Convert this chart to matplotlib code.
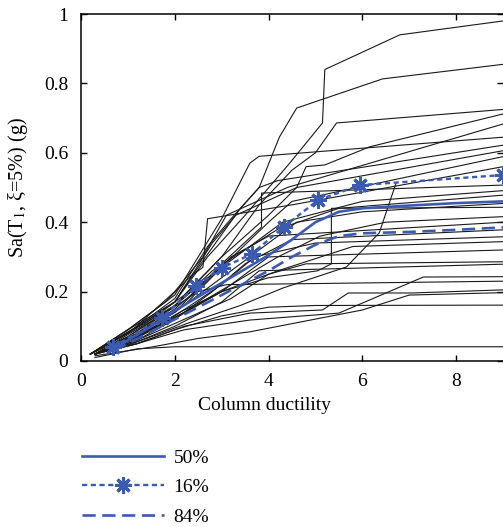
import matplotlib
matplotlib.use('Agg')
import matplotlib.pyplot as plt

# IDA curves (column ductility, Sa)
ida_x = [
    [0.2, 1.0, 2.0, 2.7, 3.5, 4.45, 5.15, 5.2, 6.8, 9.0],
    [0.2, 1.2, 2.0, 2.7, 3.2, 3.8, 4.23, 4.6, 6.43, 9.0],
    [0.2, 1.0, 2.0, 3.0, 3.8, 4.5, 5.0, 5.45, 9.0],
    [0.3, 1.3, 2.2, 3.0, 4.0, 4.6, 4.8, 5.2, 6.15, 9.0],
    [0.2, 1.1, 2.0, 2.6, 3.1, 4.4, 9.0],
    [0.2, 1.0, 2.0, 2.5, 3.0, 3.6, 3.8, 9.0],
    [0.2, 1.0, 2.0, 2.5, 3.4, 3.8, 4.2, 9.0],
    [0.2, 1.0, 2.0, 2.8, 3.3, 4.6, 9.0],
    [0.3, 1.2, 2.2, 3.0, 4.0, 4.5, 9.0],
    [0.3, 1.1, 2.0, 3.0, 3.85, 3.85, 9.0],
    [0.3, 1.2, 2.1, 2.8, 3.6, 4.3, 6.0, 9.0],
    [0.2, 1.0, 2.0, 2.8, 3.5, 4.2, 5.5, 9.0],
    [0.3, 1.2, 2.1, 3.0, 4.0, 5.05, 5.34, 5.34, 9.0],
    [0.3, 1.1, 2.0, 3.0, 3.9, 4.6, 6.0, 9.0],
    [0.3, 1.2, 2.2, 3.2, 4.2, 5.1, 6.5, 9.0],
    [0.3, 1.3, 2.3, 3.4, 4.3, 5.66, 6.36, 6.72],
    [0.3, 1.2, 2.0, 2.8, 3.5, 4.5, 9.0],
    [0.3, 1.0, 2.0, 3.0, 3.7, 5.0, 9.0],
    [0.3, 1.2, 2.2, 3.0, 4.2, 5.8, 9.0],
    [0.3, 1.1, 2.1, 3.0, 4.0, 9.0],
    [0.3, 1.2, 2.2, 3.2, 4.0, 4.8, 9.0],
    [0.3, 1.1, 2.0, 3.0, 3.8, 9.0],
    [0.3, 1.2, 2.2, 3.6, 5.5, 7.3, 9.0],
    [0.3, 1.2, 2.2, 3.6, 5.15, 5.7, 7.06, 9.0],
    [0.3, 1.5, 2.5, 3.6, 6.0, 7.0, 9.0],
    [0.3, 1.2, 2.0, 3.0, 4.0, 5.0, 9.0],
    [0.3, 1.2, 2.0, 9.0],
    [0.3, 1.0, 1.7, 2.5, 3.1, 9.0],
    [0.2, 1.0, 1.8, 2.3, 2.6, 2.7, 4.5, 9.0],
    [0.3, 1.1, 2.0, 2.6, 3.2, 4.0, 9.0],
]
ida_y = [
    [0.02, 0.08, 0.17, 0.30, 0.42, 0.57, 0.686, 0.84, 0.94, 0.98],
    [0.02, 0.10, 0.18, 0.33, 0.41, 0.50, 0.645, 0.729, 0.813, 0.855],
    [0.02, 0.07, 0.16, 0.30, 0.45, 0.55, 0.60, 0.686, 0.725],
    [0.02, 0.10, 0.19, 0.30, 0.42, 0.50, 0.56, 0.565, 0.617, 0.712],
    [0.02, 0.09, 0.20, 0.30, 0.42, 0.50, 0.683],
    [0.02, 0.09, 0.19, 0.30, 0.41, 0.57, 0.59, 0.645],
    [0.02, 0.09, 0.17, 0.27, 0.44, 0.50, 0.52, 0.622],
    [0.02, 0.08, 0.17, 0.34, 0.42, 0.50, 0.606],
    [0.02, 0.08, 0.16, 0.27, 0.40, 0.46, 0.589],
    [0.02, 0.07, 0.14, 0.28, 0.386, 0.484, 0.507],
    [0.02, 0.08, 0.17, 0.26, 0.33, 0.40, 0.46, 0.491],
    [0.02, 0.08, 0.16, 0.25, 0.32, 0.38, 0.44, 0.478],
    [0.02, 0.07, 0.14, 0.20, 0.24, 0.26, 0.28, 0.44, 0.443],
    [0.02, 0.07, 0.14, 0.24, 0.33, 0.40, 0.43, 0.454],
    [0.02, 0.07, 0.14, 0.22, 0.30, 0.36, 0.40, 0.416],
    [0.02, 0.06, 0.11, 0.16, 0.21, 0.271, 0.369, 0.513],
    [0.02, 0.06, 0.12, 0.20, 0.28, 0.35, 0.378],
    [0.02, 0.06, 0.13, 0.22, 0.30, 0.34, 0.358],
    [0.02, 0.07, 0.14, 0.20, 0.26, 0.33, 0.344],
    [0.02, 0.06, 0.13, 0.20, 0.30, 0.32],
    [0.02, 0.06, 0.12, 0.18, 0.25, 0.28, 0.286],
    [0.02, 0.05, 0.10, 0.17, 0.26, 0.279],
    [0.02, 0.05, 0.09, 0.118, 0.138, 0.242, 0.243],
    [0.02, 0.05, 0.10, 0.138, 0.147, 0.196, 0.196, 0.205],
    [0.015, 0.04, 0.065, 0.084, 0.147, 0.19, 0.197],
    [0.02, 0.05, 0.09, 0.13, 0.155, 0.16, 0.161],
    [0.01, 0.035, 0.041, 0.041],
    [0.02, 0.07, 0.13, 0.20, 0.22, 0.23],
    [0.02, 0.09, 0.17, 0.24, 0.27, 0.41, 0.45, 0.56],
    [0.02, 0.07, 0.15, 0.22, 0.30, 0.36, 0.40],
]

# fractile curves
p50_x = [0.7, 1.0, 1.5, 2.0, 2.5, 3.0, 3.5, 4.0, 4.5, 5.0, 5.5, 6.0, 7.0, 8.0, 9.0]
p50_y = [0.035, 0.06, 0.10, 0.145, 0.185, 0.225, 0.265, 0.305, 0.35, 0.40, 0.43, 0.44, 0.448, 0.455, 0.46]
p16_x = [0.68, 1.72, 2.45, 3.0, 3.64, 4.32, 5.06, 5.96, 9.0]
p16_y = [0.04, 0.124, 0.216, 0.268, 0.308, 0.386, 0.464, 0.507, 0.536]
p84_x = [0.7, 1.0, 1.5, 2.0, 2.5, 3.0, 3.5, 4.0, 4.5, 5.0, 5.5, 6.0, 7.0, 8.0, 9.0]
p84_y = [0.03, 0.05, 0.085, 0.12, 0.155, 0.19, 0.225, 0.26, 0.30, 0.335, 0.36, 0.368, 0.372, 0.378, 0.385]

x_ticks = [0, 2, 4, 6, 8]
y_ticks = [0, 0.2, 0.4, 0.6, 0.8, 1.0]
y_tick_labels = ['0', '0.2', '0.4', '0.6', '0.8', '1']

BLUE = '#3b5bb3'
FS = 14

plt.rcParams['font.family'] = ['Liberation Serif', 'DejaVu Serif']
plt.rcParams['mathtext.fontset'] = 'stix'

fig = plt.figure(figsize=(5.03, 5.27), dpi=100)
ax = fig.add_axes([0.161, 0.315, 0.839, 0.6584])

for xs, ys in zip(ida_x, ida_y):
    ax.plot(xs, ys, color='#1a1a1a', lw=0.8)

ax.plot(p50_x, p50_y, color=BLUE, lw=1.9, label='50%')
ax.plot(p16_x, p16_y, color=BLUE, lw=1.7, dashes=(2.2, 1.5),
        marker=(8, 2, 0), markersize=12, markeredgewidth=2.2, label='16%')
ax.plot(p84_x, p84_y, color=BLUE, lw=1.9, dashes=(5, 2.5), label='84%')

ax.set_xlim(0, 9)
ax.set_ylim(0, 1)
ax.set_xticks(x_ticks)
ax.set_xticklabels([str(t) for t in x_ticks])
ax.set_yticks(y_ticks)
ax.set_yticklabels(y_tick_labels)
ax.tick_params(direction='in', top=True, right=True, length=4, width=1,
               labelsize=FS, pad=9)
for s in ['left', 'bottom', 'top']:
    ax.spines[s].set_linewidth(1.1)
ax.spines['right'].set_visible(False)

ax.set_xlabel('Column ductility', fontsize=FS)
ax.xaxis.set_label_coords(0.435, -0.105)
ax.set_ylabel('Sa(T$_1$, ξ=5%) (g)', fontsize=14.5)
ax.yaxis.set_label_coords(-0.12, 0.5)

fig.legend(loc='upper left', bbox_to_anchor=(0.163, 0.148), frameon=False,
           fontsize=FS, handlelength=4.2, numpoints=1, labelspacing=0.62,
           handletextpad=0.5, borderaxespad=0, borderpad=0)

fig.savefig('out.png', dpi=100)
